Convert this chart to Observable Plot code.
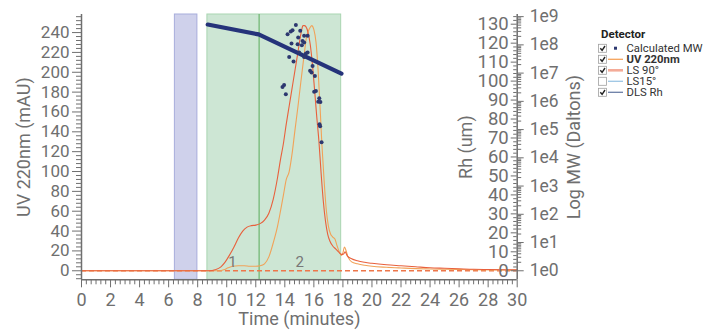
<!DOCTYPE html>
<html><head><meta charset="utf-8">
<script src="https://cdn.jsdelivr.net/npm/d3@7"></script>
<script src="https://cdn.jsdelivr.net/npm/@observablehq/plot@0.6"></script>
<style>
html,body{margin:0;padding:0;background:#fff;}
#wrap{position:relative;width:706px;height:333px;overflow:hidden;}
#legend{position:absolute;left:590px;top:25px;}
</style></head><body><div id="wrap"></div>
<script>
// ---------- data ----------
const timeTicks = d3.range(0, 31, 2);
const uvTicks = d3.range(0, 241, 20);
const rhTicks = d3.range(0, 131, 10);
const mwTickExp = d3.range(0, 10);

const lsTime  = [0, 8.8, 9.2, 9.6, 9.9, 10.2, 10.5, 10.8, 11.1, 11.4, 11.7, 12.0, 12.3, 12.6, 12.9, 13.2, 13.5, 13.7, 13.9, 14.1, 14.3, 14.5, 14.7, 14.9, 15.05, 15.15, 15.25, 15.35, 15.45, 15.6, 15.75, 15.9, 16.05, 16.2, 16.35, 16.5, 16.65, 16.8, 16.95, 17.1, 17.3, 17.5, 17.7, 17.9, 18.05, 18.15, 18.3, 18.6, 19.0, 19.5, 20, 21, 22, 23, 24, 25, 26, 27, 28, 30];
const lsValue = [0, 0, 1, 4, 9, 16, 24, 33, 40, 44, 45.5, 46, 47.5, 51, 58, 72, 94, 112, 128, 148, 166, 184, 202, 220, 234, 242, 247, 247, 246, 240, 228, 208, 182, 155, 130, 98, 70, 50, 37, 30, 25, 22, 19, 16.5, 17, 19, 15, 12, 10, 8.5, 7.5, 6, 5, 4, 3, 2.5, 2, 1.5, 1.3, 1];

const uvTime  = [0, 9.5, 9.8, 10.1, 10.4, 10.8, 11.2, 11.6, 12.0, 12.3, 12.6, 12.9, 13.2, 13.5, 13.7, 13.9, 14.1, 14.3, 14.5, 14.7, 14.9, 15.1, 15.3, 15.5, 15.6, 15.7, 15.85, 16.0, 16.15, 16.3, 16.45, 16.55, 16.7, 16.85, 17.0, 17.15, 17.3, 17.45, 17.6, 17.75, 17.9, 18.0, 18.1, 18.2, 18.35, 18.6, 19, 19.5, 20, 21, 22, 23, 24, 25, 27, 30];
const uvValue = [0, 0, 1, 3, 4.5, 5, 5, 4.5, 4.5, 5, 7, 14, 28, 45, 60, 76, 92, 100, 118, 142, 165, 190, 214, 236, 241, 244, 247, 243, 230, 200, 158, 128, 92, 62, 45, 37, 34, 32, 25, 19, 15.5, 18, 24, 21, 14, 9, 7, 5.5, 4.5, 3.5, 2.8, 2.2, 1.8, 1.5, 1, 0.5];

// Calculated MW points: time (min), log10 MW (Daltons)
const mwTime = [14.76, 14.53, 14.41, 14.19, 15.06, 15.33, 15.57, 14.92, 15.22, 15.33, 14.46, 14.88, 15.17, 15.57, 15.45, 14.99, 14.30, 15.33, 14.60, 15.91, 15.74, 15.84, 16.07, 13.95, 13.84, 14.07, 16.14, 16.02, 16.37, 16.30, 16.45, 16.39, 16.43, 16.53];
const mwLog  = [8.70, 8.52, 8.47, 8.38, 8.50, 8.32, 8.32, 8.26, 8.14, 8.08, 8.05, 8.02, 7.99, 7.73, 7.69, 7.73, 7.57, 7.57, 7.41, 7.25, 7.08, 7.02, 6.90, 6.58, 6.51, 6.25, 6.37, 6.34, 6.11, 5.99, 5.98, 5.19, 5.12, 4.55];

// fitted MW line
const fitTime = [8.69, 12.2, 17.9];
const fitLog  = [8.72, 8.37, 6.98];

// integration regions
const bandStart = [6.43, 8.67];
const bandEnd   = [7.98, 17.88];
const bandFill  = ["#cfd1eb", "#cde6d4"];
const bandStroke = ["#a7addb", "#a9d5b1"];
const splitTime = [12.23];

// peak labels
const peakLabels = ["1", "2"];
const peakTime = [10.4, 15.03];
const peakUV = [8.5, 8.5];

// legend
const legendNames = ["Calculated MW", "UV 220nm", "LS 90°", "LS15°", "DLS Rh"];
const legendChecked = [true, true, true, false, true];

// ---------- scale helpers (secondary axes mapped onto the UV scale) ----------
const yMin = -9.1, yMax = 258.2;
const RH_K = 1.911;     // UV units per Rh unit
const MW_K = 28.45;     // UV units per decade of MW
const rhToUV = r => r * RH_K;
const logToUV = L => L * MW_K;

const ls = lsTime.map((t, i) => ({t, v: lsValue[i]}));
const uv = uvTime.map((t, i) => ({t, v: uvValue[i]}));
const mw = mwTime.map((t, i) => ({t, L: mwLog[i]}));
const fit = fitTime.map((t, i) => ({t, L: fitLog[i]}));
const bands = bandStart.map((s, i) => ({x1: s, x2: bandEnd[i], fill: bandFill[i], stroke: bandStroke[i]}));
const peaks = peakLabels.map((s, i) => ({s, t: peakTime[i], v: peakUV[i]}));

const uvMinor = d3.range(-8, 258, 4).filter(v => v % 20 !== 0);
const timeMinor = d3.range(0, 91).filter(i => i % 6 !== 0).map(i => i / 3);
const rhMinor = d3.range(0, 135, 2).filter(v => v % 10 !== 0);
const mwMinor = [];
for (let n = 0; n < 9; n++) for (let k = 2; k <= 9; k++) mwMinor.push(n + Math.log10(k));

const axisColor = "#6f6f6f";

const chart = Plot.plot({
  width: 706, height: 333,
  marginLeft: 81, marginRight: 189.3, marginTop: 14, marginBottom: 53.7,
  style: {fontFamily: "Roboto, sans-serif", color: axisColor, background: "white", overflow: "visible"},
  x: {domain: [0, 30]},
  y: {domain: [yMin, yMax]},
  marks: [
    Plot.rectX(bands, {x1: "x1", x2: "x2", fill: d => d.fill, stroke: d => d.stroke, strokeWidth: 1}),
    Plot.ruleX(splitTime, {stroke: "#6db56f", strokeWidth: 1.2}),
    Plot.ruleY([0], {stroke: "#ee774a", strokeWidth: 1.6, strokeDasharray: "5,3"}),
    Plot.line(uv, {x: "t", y: "v", stroke: "#f1a258", strokeWidth: 1.1, curve: "monotone-x"}),
    Plot.line(ls, {x: "t", y: "v", stroke: "#e8603c", strokeWidth: 1.1, curve: "monotone-x"}),
    Plot.line(fit, {x: "t", y: d => logToUV(d.L), stroke: "#25337a", strokeWidth: 4.2}),
    Plot.dot(mw, {x: "t", y: d => logToUV(d.L), r: 2, fill: "#2d3870", stroke: null}),
    Plot.text(peaks, {x: "t", y: "v", text: "s", fontSize: 15, fill: "#777"}),
    // axis lines
    Plot.ruleX([0, 30], {stroke: axisColor, strokeWidth: 1.5}),
    Plot.ruleY([yMin], {stroke: axisColor, strokeWidth: 1.5}),
    // left UV axis
    Plot.axisY(uvTicks, {anchor: "left", tickSize: 9, tickPadding: 3, fontSize: 17, label: null}),
    Plot.axisY(uvMinor, {anchor: "left", tickSize: 5, fill: "none", label: null}),
    // bottom time axis
    Plot.axisX(timeTicks, {anchor: "bottom", tickSize: 8, tickPadding: 5.5, fontSize: 18, label: null}),
    Plot.axisX(timeMinor, {anchor: "bottom", tickSize: 5, fill: "none", label: null}),
    // Rh axis (ticks to the left of the right axis line)
    Plot.axisY(rhTicks.map(rhToUV), {anchor: "left", frameAnchor: "right", tickSize: 6, tickPadding: 2.5, fontSize: 18.5,
      tickFormat: v => String(Math.round(v / RH_K)), label: null}),
    Plot.axisY(rhMinor.map(rhToUV), {anchor: "left", frameAnchor: "right", tickSize: 3.5, fill: "none", label: null}),
    // Log MW axis (ticks to the right)
    Plot.axisY(mwTickExp.map(logToUV), {anchor: "right", tickSize: 6, tickPadding: 6.5, fontSize: 17.5,
      tickFormat: v => "1e" + Math.round(v / MW_K), label: null}),
    Plot.axisY(mwMinor.map(logToUV), {anchor: "right", tickSize: 3.5, fill: "none", label: null}),
    // axis titles
    Plot.text(["UV 220nm (mAU)"], {frameAnchor: "left", textAnchor: "middle", text: d => d, rotate: -90, dx: -57, fontSize: 18, fill: axisColor}),
    Plot.text(["Time (minutes)"], {frameAnchor: "bottom", textAnchor: "middle", text: d => d, dy: 45.5, fontSize: 18, fill: axisColor}),
    Plot.text(["Rh (um)"], {frameAnchor: "right", textAnchor: "middle", text: d => d, rotate: -90, dx: -51, fontSize: 18, fill: axisColor}),
    Plot.text(["Log MW (Daltons)"], {frameAnchor: "right", textAnchor: "middle", text: d => d, rotate: -90, dx: 57, fontSize: 18, fill: axisColor})
  ]
});
document.getElementById("wrap").appendChild(chart);

// ---------- legend ----------
const swatch = [
  {type: "dot", color: "#2d3870"},
  {type: "line", color: "#f5a35a", w: 1.3},
  {type: "line", color: "#f4ab98", w: 2.6},
  {type: "line", color: "#9cc6e4", w: 1.3},
  {type: "line", color: "#6b7ea6", w: 1.3}
];
const lg = d3.create("svg").attr("id", "legend").attr("width", 116).attr("height", 78)
  .style("font-family", "Roboto, sans-serif");
lg.append("text").attr("x", 11).attr("y", 9).attr("dy", "0.35em").attr("font-size", 11.5)
  .attr("font-weight", "bold").attr("fill", "#222").text("Detector");
legendNames.forEach((name, i) => {
  const cy = 23.3 + i * 11;
  lg.append("rect").attr("x", 8.5).attr("y", cy - 4).attr("width", 8).attr("height", 8)
    .attr("fill", "#fff").attr("stroke", "#a0a0a0").attr("stroke-width", 0.8);
  if (legendChecked[i]) {
    lg.append("path").attr("d", `M10.3,${cy} L12.1,${cy + 2} L15,${cy - 2.3}`)
      .attr("fill", "none").attr("stroke", "#222").attr("stroke-width", 1.4);
  }
  const s = swatch[i];
  if (s.type === "dot") {
    lg.append("rect").attr("x", 24).attr("y", cy - 1.6).attr("width", 3).attr("height", 3).attr("fill", s.color);
  } else {
    lg.append("line").attr("x1", 18).attr("x2", 33).attr("y1", cy).attr("y2", cy)
      .attr("stroke", s.color).attr("stroke-width", s.w);
  }
  lg.append("text").attr("x", 36.5).attr("y", cy).attr("dy", "0.35em").attr("font-size", 11.3)
    .attr("font-weight", i === 1 ? "bold" : "normal").attr("fill", "#333").text(name);
});
document.getElementById("wrap").appendChild(lg.node());
</script>
</body></html>
